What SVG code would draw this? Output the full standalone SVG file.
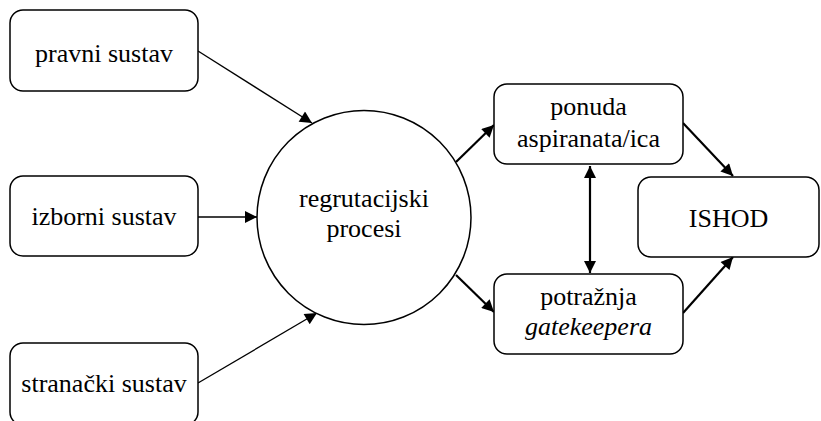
<svg xmlns="http://www.w3.org/2000/svg" width="821" height="421" viewBox="0 0 821 421">
<style>
.box{fill:#fff;stroke:#000;stroke-width:1.5}
.lbl{font-family:"Liberation Serif","Times New Roman",serif;font-size:26px;fill:#000;text-anchor:middle}
.thin{stroke:#000;stroke-width:1.3;fill:none}
.thick{stroke:#000;stroke-width:2.2;fill:none}
</style>
<defs>
<marker id="ah" viewBox="0 0 10 10" refX="10" refY="5" markerWidth="16" markerHeight="12" markerUnits="userSpaceOnUse" orient="auto">
<path d="M0,0 L10,5 L0,10 Z" fill="#000"/>
</marker>
<marker id="ahs" viewBox="0 0 10 10" refX="10" refY="5" markerWidth="16" markerHeight="12" markerUnits="userSpaceOnUse" orient="auto-start-reverse">
<path d="M0,0 L10,5 L0,10 Z" fill="#000"/>
</marker>
</defs>
<rect width="821" height="421" fill="#fff"/>
<g id="connectors">
<line class="thin" x1="198" y1="51" x2="312" y2="123" marker-end="url(#ah)"/>
<line class="thin" x1="198" y1="217" x2="257" y2="217" marker-end="url(#ah)"/>
<line class="thin" x1="198" y1="383" x2="317" y2="313" marker-end="url(#ah)"/>
<line class="thick" x1="456" y1="162" x2="494" y2="125" marker-end="url(#ah)"/>
<line class="thick" x1="456" y1="275" x2="494" y2="312" marker-end="url(#ah)"/>
<line class="thick" x1="590" y1="166" x2="590" y2="273" marker-start="url(#ahs)" marker-end="url(#ah)"/>
<line class="thick" x1="683" y1="123" x2="733" y2="176" marker-end="url(#ah)"/>
<line class="thick" x1="683" y1="313" x2="733" y2="257" marker-end="url(#ah)"/>
</g>
<g id="pravni">
<rect class="box" x="10" y="10" width="188" height="81" rx="13"/>
<text class="lbl" x="104" y="62">pravni sustav</text>
</g>
<g id="izborni">
<rect class="box" x="10" y="176" width="188" height="80" rx="13"/>
<text class="lbl" x="104" y="225">izborni sustav</text>
</g>
<g id="stranacki">
<rect class="box" x="10" y="343" width="188" height="82" rx="13"/>
<text class="lbl" x="104" y="392">strana&#269;ki sustav</text>
</g>
<g id="regrutacija">
<circle class="box" cx="364" cy="217.5" r="107"/>
<text class="lbl" x="364" y="207">regrutacijski</text>
<text class="lbl" x="364" y="237">procesi</text>
</g>
<g id="ponuda">
<rect class="box" x="494" y="84" width="189" height="80" rx="13"/>
<text class="lbl" x="588.5" y="115">ponuda</text>
<text class="lbl" x="588.5" y="147">aspiranata/ica</text>
</g>
<g id="potraznja">
<rect class="box" x="494" y="274" width="189" height="80" rx="13"/>
<text class="lbl" x="588.5" y="305">potra&#382;nja</text>
<text class="lbl" x="588.5" y="335" font-style="italic">gatekeepera</text>
</g>
<g id="ishod">
<rect class="box" x="638" y="177" width="181" height="80" rx="13"/>
<text class="lbl" x="728.5" y="227">ISHOD</text>
</g>
</svg>
